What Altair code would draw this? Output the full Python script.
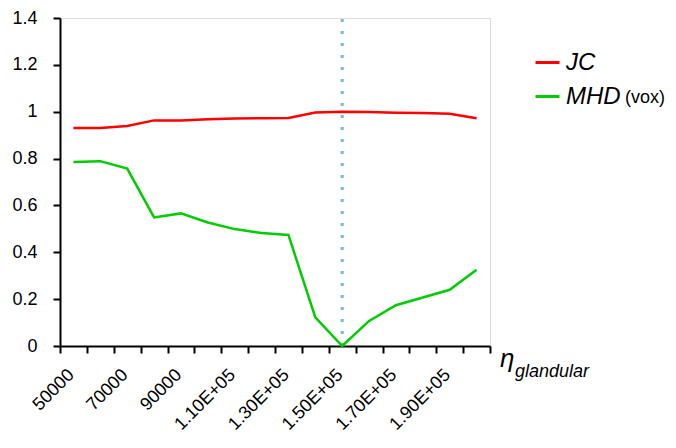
import altair as alt
import pandas as pd
import json

# ---- data ----
eta_labels = ["50000", "60000", "70000", "80000", "90000", "1.00E+05", "1.10E+05", "1.20E+05",
              "1.30E+05", "1.40E+05", "1.50E+05", "1.60E+05", "1.70E+05", "1.80E+05", "1.90E+05", "2.00E+05"]
jc = [0.930, 0.931, 0.939, 0.963, 0.962, 0.968, 0.971, 0.972, 0.973, 0.997, 1.000, 0.999, 0.996, 0.994, 0.991, 0.972]
mhd = [0.785, 0.789, 0.757, 0.549, 0.566, 0.527, 0.499, 0.482, 0.474, 0.122, 0.000, 0.107, 0.174, 0.207, 0.240, 0.325]
series_names = ["JC", "MHD"]
series_colors = ["#ff0000", "#00cc00"]
optimum_index = 10  # 1.50E+05
y_ticks = [0, 0.2, 0.4, 0.6, 0.8, 1.0, 1.2, 1.4]

FONT = "Liberation Sans"

rows = []
for i, lab in enumerate(eta_labels):
    rows.append({"idx": i, "eta": lab, "series": "JC", "value": jc[i]})
    rows.append({"idx": i, "eta": lab, "series": "MHD", "value": mhd[i]})
df = pd.DataFrame(rows)

n = len(eta_labels)
tick_vals = [i - 0.5 for i in range(n + 1)]
label_arr = json.dumps([lab if i % 2 == 0 else "" for i, lab in enumerate(eta_labels)]).replace('"', "'")
label_expr = f"datum.value < {n - 1} ? {label_arr}[round(datum.value + 0.5)] : ''"

x_scale = alt.Scale(domain=[-0.5, n - 0.5], nice=False, zero=False)
y_scale = alt.Scale(domain=[0, 1.4], nice=False)

x_axis = alt.Axis(values=tick_vals, labelExpr=label_expr, labelOffset=11, labelAngle=-45,
                  labelAlign="right", labelBaseline="middle", labelFont=FONT, labelFontSize=18,
                  labelColor="black", labelOverlap=False, labelBound=False, labelFlush=False,
                  labelPadding=19, tickSize=7, tickWidth=2, tickColor="black",
                  domainColor="black", domainWidth=2, grid=False, title=None)
y_axis = alt.Axis(values=y_ticks, format="~g", labelFont=FONT, labelFontSize=18, labelColor="black",
                  labelPadding=16, tickSize=7, tickWidth=2, tickColor="black",
                  domainColor="black", domainWidth=2, grid=False, title=None)

vline_df = pd.DataFrame({"idx": [optimum_index], "y0": [0.0], "y1": [1.4]})
vline = alt.Chart(vline_df).mark_rule(color="#74b9d5", strokeWidth=3, strokeDash=[3, 9]).encode(
    x=alt.X("idx:Q", scale=x_scale, axis=x_axis),
    y=alt.Y("y0:Q", scale=y_scale, axis=y_axis),
    y2="y1:Q",
)

lines = alt.Chart(df).mark_line(strokeWidth=2.5).encode(
    x=alt.X("idx:Q", scale=x_scale, axis=x_axis),
    y=alt.Y("value:Q", scale=y_scale, axis=y_axis),
    color=alt.Color("series:N", scale=alt.Scale(domain=series_names, range=series_colors),
                    legend=alt.Legend(orient="none", legendX=474, legendY=31, title=None,
                                      symbolType="stroke", symbolSize=576, symbolStrokeWidth=3,
                                      labelFont=FONT, labelFontSize=24, labelFontStyle="italic",
                                      labelColor="black", labelOffset=5, rowPadding=8, padding=0)),
)

annot_df = pd.DataFrame({"t": ["(vox)"]})
vox = alt.Chart(annot_df).mark_text(font=FONT, fontSize=18, align="left", baseline="alphabetic",
                                     color="black").encode(
    text="t:N", x=alt.value(565), y=alt.value(85))

eta_df = pd.DataFrame({"t": ["η"]})
eta_t = alt.Chart(eta_df).mark_text(font=FONT, fontSize=26, fontStyle="italic", align="left",
                                     baseline="alphabetic", color="black").encode(
    text="t:N", x=alt.value(440), y=alt.value(349))
sub_df = pd.DataFrame({"t": ["glandular"]})
sub_t = alt.Chart(sub_df).mark_text(font=FONT, fontSize=18, fontStyle="italic", align="left",
                                     baseline="alphabetic", color="black").encode(
    text="t:N", x=alt.value(455), y=alt.value(359))

chart = alt.layer(vline, lines, vox, eta_t, sub_t).properties(
    width=430, height=328,
    autosize=alt.AutoSizeParams(type="none"),
    padding={"left": 52, "top": 10, "right": 178, "bottom": 94},
).configure_view(stroke=None).configure(background="white")

chart.save("out.html", embed_options={"renderer": "svg", "actions": False})
